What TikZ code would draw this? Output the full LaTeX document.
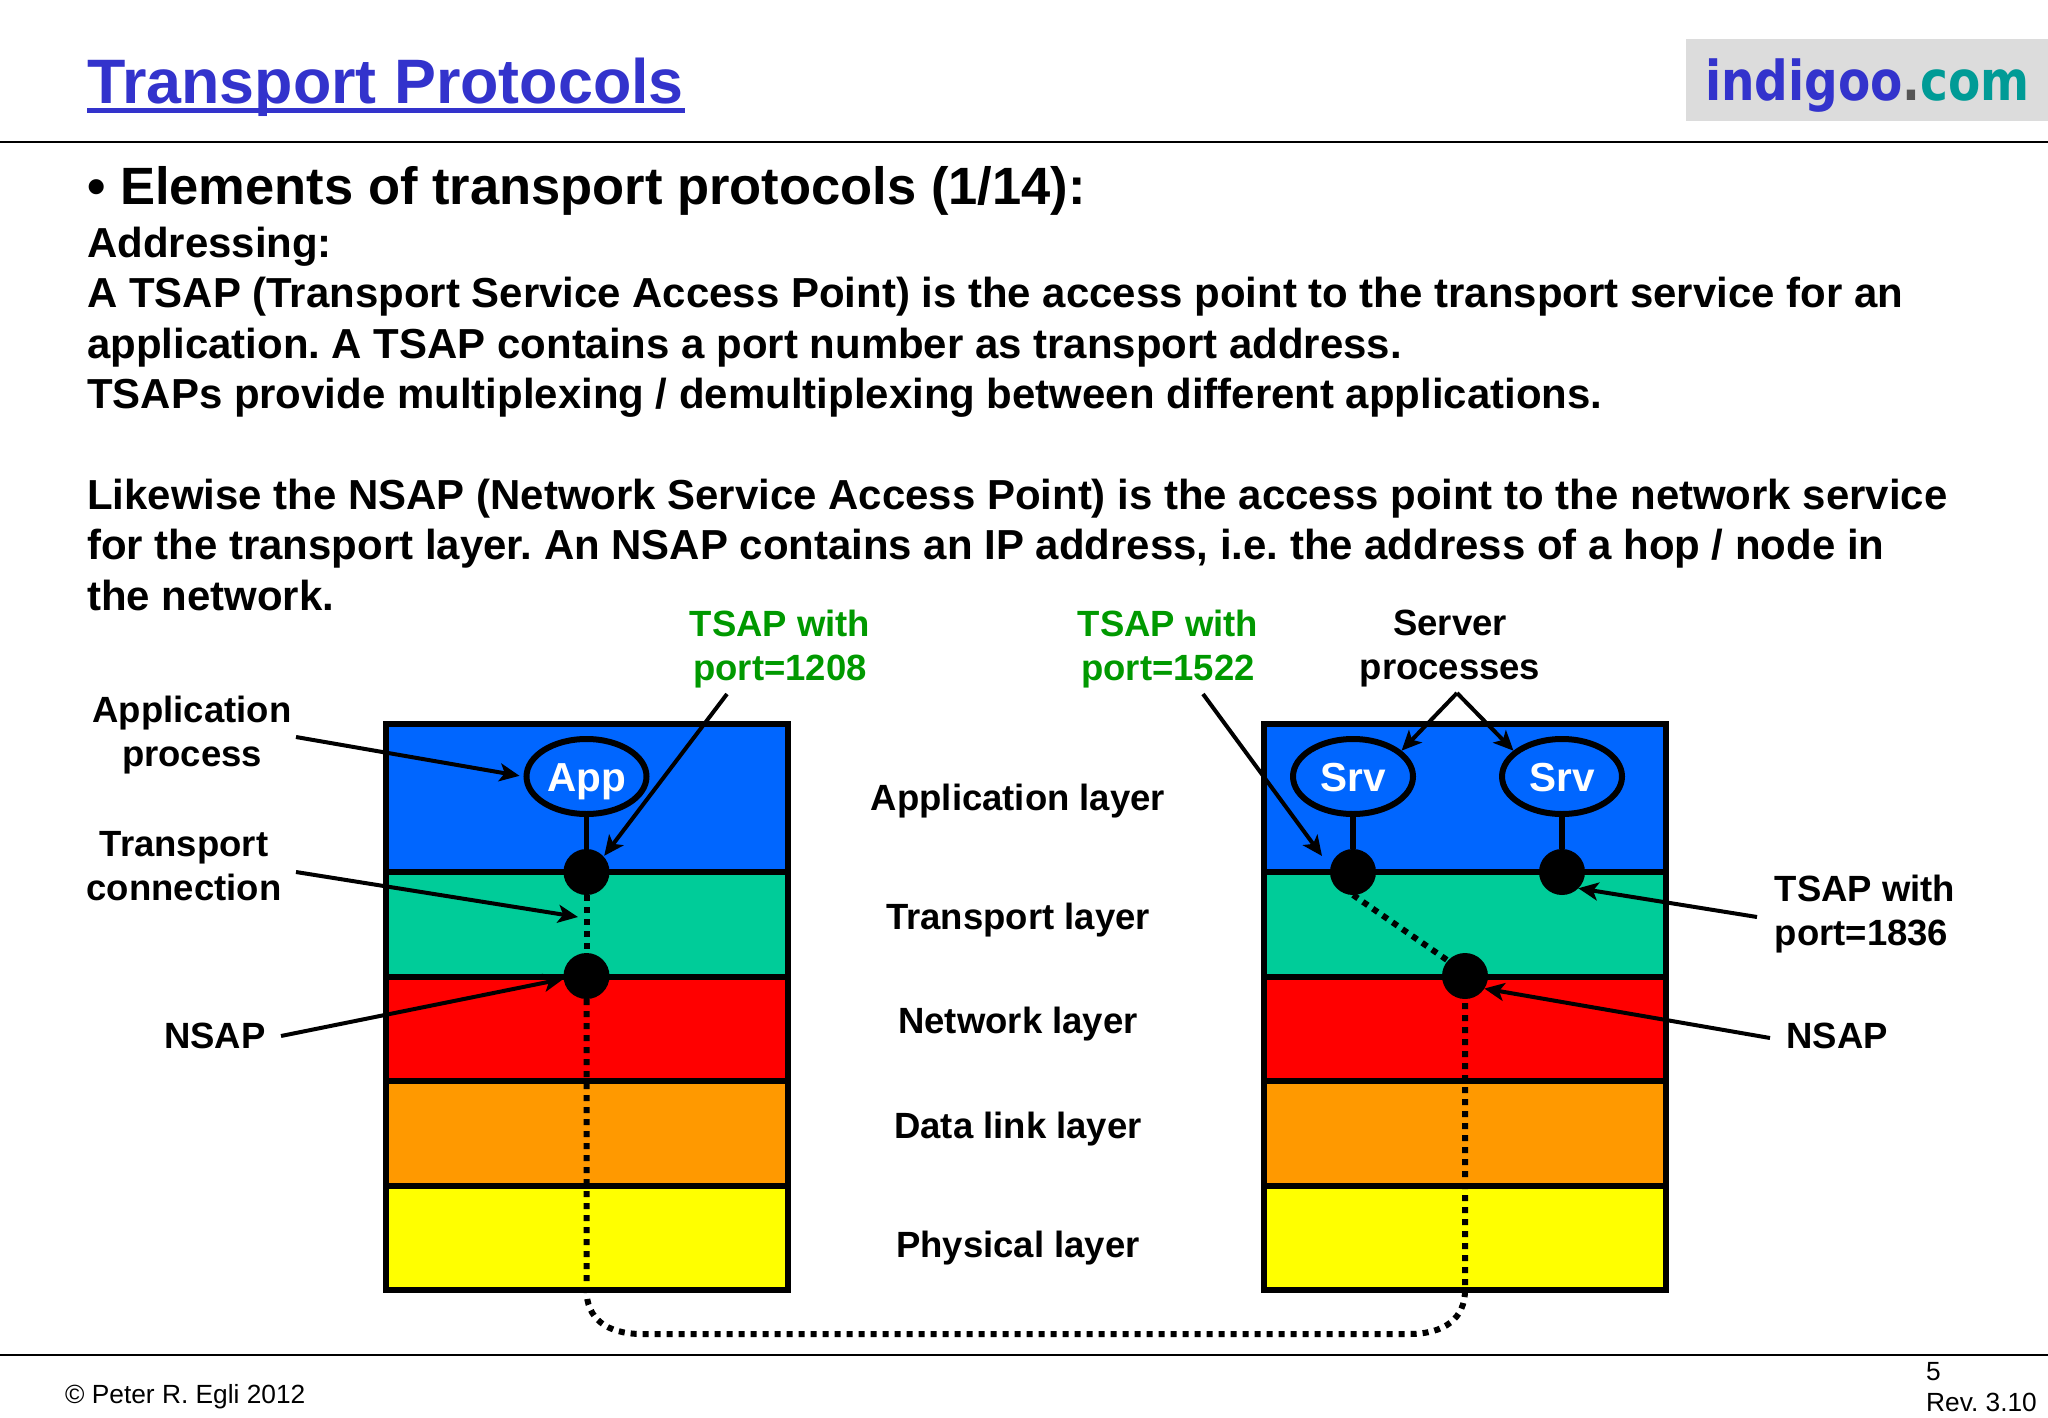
\documentclass[tikz,border=0pt]{standalone}
\usepackage{fontspec}
\setmainfont{Liberation Sans}
\newfontfamily\logofont[FakeStretch=0.855]{DejaVu Sans}
\usetikzlibrary{arrows.meta,shapes.geometric}
\definecolor{indigoblue}{HTML}{3333CC}
\definecolor{logogrey}{HTML}{DCDCDC}
\definecolor{logodot}{HTML}{555555}
\definecolor{logoteal}{HTML}{009B96}
\definecolor{lblue}{HTML}{0066FF}
\definecolor{lgreen}{HTML}{00CC99}
\definecolor{lred}{HTML}{FF0000}
\definecolor{lorange}{HTML}{FF9900}
\definecolor{lyellow}{HTML}{FFFF00}
\definecolor{tsapgreen}{HTML}{009900}
\frenchspacing
\tikzset{
  bodyline/.style={anchor=base west,inner sep=0pt,font=\fontsize{41.95}{50}\selectfont\bfseries},
  foot/.style={anchor=base west,inner sep=0pt,font=\fontsize{26.3}{30}\selectfont},
  lbl/.style={align=center,inner sep=0pt,font=\fontsize{36.5}{44}\selectfont\bfseries},
  tsaplbl/.style={lbl,text=tsapgreen},
  layerbox/.style={draw=black,line width=6pt,rectangle,minimum width=402pt,inner sep=0pt,outer sep=0pt},
  proc/.style={draw=black,line width=6pt,ellipse,fill=lblue,minimum width=120pt,minimum height=75pt,inner sep=0pt,text=white,text height=30pt,text depth=0pt,font=\fontsize{40.5}{48}\selectfont\bfseries},
  sap/.style={circle,fill=black,minimum size=46pt,inner sep=0pt,outer sep=0pt},
  solidlink/.style={line width=5.5pt},
  dotlink/.style={line width=6pt,dash pattern=on 6pt off 6pt},
  arr/.style={line width=4pt,-{Stealth[length=20pt,width=18pt,inset=5pt]}},
}
\begin{document}
\begin{tikzpicture}[x=1pt,y=-1pt]
\useasboundingbox (0,0) rectangle (2048,1418);
\fill[white] (0,0) rectangle (2048,1418);
% header
\node[anchor=base west,inner sep=0pt,text=indigoblue,font=\fontsize{62.8}{70}\selectfont\bfseries] (title) at (87,103.5) {\rlap{Transport Protocols}\rule[-10pt]{598pt}{5pt}};
\fill[logogrey] (1686,39) rectangle (2048,121);
\node[anchor=base west,inner sep=0pt,font=\fontsize{55}{60}\selectfont\logofont\bfseries] (logo) at (1705,101) {\textcolor{indigoblue}{indigoo}\textcolor{logodot}{.}\textcolor{logoteal}{com}};
\draw[line width=2.5pt] (0,142) -- (2048,142);
\draw[line width=2pt] (0,1355) -- (2048,1355);
% text
\node[anchor=base west,inner sep=0pt,font=\fontsize{52.5}{60}\selectfont\bfseries] (heading) at (87,204) {• Elements of transport protocols (1/14):};
\node[bodyline] (t1) at (87,257) {Addressing:};
\node[bodyline] (t2) at (87,307) {A TSAP (Transport Service Access Point) is the access point to the transport service for an};
\node[bodyline] (t3) at (87,358) {application. A TSAP contains a port number as transport address.};
\node[bodyline] (t4) at (87,408) {TSAPs provide multiplexing / demultiplexing between different applications.};
\node[bodyline] (t5) at (87,509) {Likewise the NSAP (Network Service Access Point) is the access point to the network service};
\node[bodyline] (t6) at (87,559) {for the transport layer. An NSAP contains an IP address, i.e. the address of a hop / node in};
\node[bodyline] (t7) at (87,610) {the network.};
% left stack
\node[layerbox,fill=lblue,minimum height=148pt] (la) at (587,798) {};
\node[layerbox,fill=lgreen,minimum height=105pt] (lt) at (587,924.5) {};
\node[layerbox,fill=lred,minimum height=104pt] (ln) at (587,1029) {};
\node[layerbox,fill=lorange,minimum height=105pt] (ld) at (587,1133.5) {};
\node[layerbox,fill=lyellow,minimum height=104pt] (lp) at (587,1238) {};
% right stack
\node[layerbox,fill=lblue,minimum height=148pt] (ra) at (1464.5,798) {};
\node[layerbox,fill=lgreen,minimum height=105pt] (rt) at (1464.5,924.5) {};
\node[layerbox,fill=lred,minimum height=104pt] (rn) at (1464.5,1029) {};
\node[layerbox,fill=lorange,minimum height=105pt] (rd) at (1464.5,1133.5) {};
\node[layerbox,fill=lyellow,minimum height=104pt] (rp) at (1464.5,1238) {};
% processes and access points
\node[proc] (app) at (586.5,776.5) {App};
\node[proc] (srva) at (1353,776.5) {Srv};
\node[proc] (srvb) at (1562,776.5) {Srv};
\node[sap] (tsapl) at (586.5,872) {};
\node[sap] (nsapl) at (586.5,976) {};
\node[sap] (tsapa) at (1353,872) {};
\node[sap] (tsapb) at (1562,872) {};
\node[sap] (nsapr) at (1465,976) {};
\draw[solidlink] (app) -- (tsapl);
\draw[solidlink] (srva) -- (tsapa);
\draw[solidlink] (srvb) -- (tsapb);
\draw[dotlink] (tsapl.south) -- (nsapl.north);
\draw[dotlink] (tsapa.south) -- (nsapr.138);
\draw[dotlink] (nsapl.south) -- (586.5,1290) .. controls (586.5,1318) and (606,1334) .. (642,1334) -- (1409,1334) .. controls (1445,1334) and (1465,1318) .. (1465,1290) -- (nsapr.south);
% layer labels
\node[lbl] (n1) at (1018,801) {Application layer};
\node[lbl] (n2) at (1018,920) {Transport layer};
\node[lbl] (n3) at (1018,1024) {Network layer};
\node[lbl] (n4) at (1018,1129) {Data link layer};
\node[lbl] (n5) at (1018,1248) {Physical layer};
% annotations
\node[lbl] (appproc) at (192,735) {Application\\process};
\node[lbl] (tconn) at (184,866) {Transport\\connection};
\node[lbl] (nsaplbl) at (215,1036) {NSAP};
\node[tsaplbl] (t1208) at (780,649) {TSAP with\\port=1208};
\node[tsaplbl] (t1522) at (1168,649) {TSAP with\\port=1522};
\node[lbl] (server) at (1450,649) {Server\\processes};
\node[lbl,align=left] (t1836) at (1865,914) {TSAP with\\port=1836};
\node[lbl] (nsaprlbl) at (1837,1036) {NSAP};
\node[foot] (copy) at (65,1403) {© Peter R. Egli 2012};
\node[foot] (pageno) at (1926,1380) {5};
\node[foot] (rev) at (1926,1411) {Rev. 3.10};
% arrows
\coordinate (c1) at (296,737);
\coordinate (c2) at (296,872);
\coordinate (c2tip) at (578,917);
\coordinate (c3) at (281,1036);
\coordinate (c4) at (727,694);
\coordinate (c5) at (1203,694);
\coordinate (c5tip) at (1322,856);
\coordinate (c6) at (1457,693);
\coordinate (c7) at (1757,917);
\coordinate (c8) at (1770,1038);
\draw[arr,shorten >=4pt] (c1) -- (app.west);
\draw[arr] (c2) -- (c2tip);
\draw[arr] (c3) -- (nsapl.187);
\draw[arr,shorten >=1pt] (c4) -- (tsapl.42);
\draw[arr] (c5) -- (c5tip);
\draw[arr] (c6) -- (srva.28);
\draw[arr] (c6) -- (srvb.152);
\draw[arr] (c7) -- (tsapb.-45);
\draw[arr] (c8) -- (nsapr.-33);
\end{tikzpicture}
\end{document}
